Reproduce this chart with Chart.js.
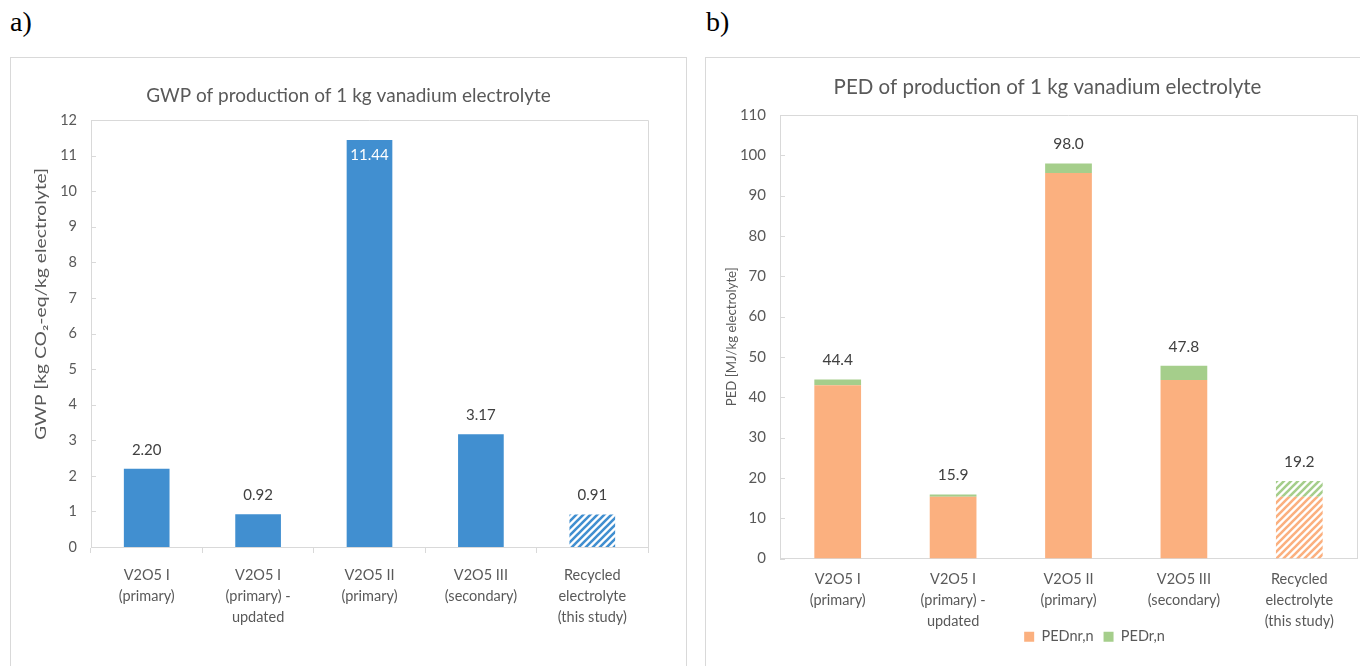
<!DOCTYPE html>
<html><head><meta charset="utf-8">
<script src="https://cdn.jsdelivr.net/npm/chart.js@4.4.1/dist/chart.umd.min.js"></script>
<style>
html,body{margin:0;padding:0;background:#fff;width:1360px;height:666px;overflow:hidden;position:relative;}
.panel{position:absolute;border:1px solid #d9d9d9;box-sizing:border-box;}
.lab{position:absolute;font-family:"Liberation Serif","DejaVu Serif",serif;font-size:28px;color:#000;line-height:1;}
canvas{position:absolute;}
</style></head><body>
<div class="lab" style="left:10px;top:8px">a)</div>
<div class="lab" style="left:706px;top:8px">b)</div>
<div class="panel" style="left:10px;top:57px;width:677px;height:640px"></div>
<div class="panel" style="left:705px;top:57px;width:700px;height:640px"></div>
<canvas id="c1" width="674" height="608" style="left:11px;top:58px"></canvas>
<canvas id="c2" width="654" height="640" style="left:706px;top:58px"></canvas>
<script>
// ---- data ----
const categories = [
  ["V2O5 I", "(primary)"],
  ["V2O5 I", "(primary) -", "updated"],
  ["V2O5 II", "(primary)"],
  ["V2O5 III", "(secondary)"],
  ["Recycled", "electrolyte", "(this study)"]
];
const gwpValues = [2.20, 0.92, 11.44, 3.17, 0.91];
const gwpLabels = ["2.20", "0.92", "11.44", "3.17", "0.91"];
const pedNonRenewable = [43.0, 15.3, 95.6, 44.3, 15.3];
const pedRenewable = [1.4, 0.6, 2.4, 3.5, 3.9];
const pedTotalLabels = ["44.4", "15.9", "98.0", "47.8", "19.2"];
const hatchedIndex = 4;

// ---- styles ----
const F = "Lato, 'Open Sans', sans-serif";
const BLUE = '#418fd0', ORANGE = '#fbb07f', GREEN = '#a5ce8b';
const GRAY = '#595959', LINE = '#d9d9d9';

function hatch(color) {
  const s = 7;
  const c = document.createElement('canvas'); c.width = s; c.height = s;
  const x = c.getContext('2d');
  x.fillStyle = '#fff'; x.fillRect(0, 0, s, s);
  x.strokeStyle = color; x.lineWidth = 2.6;
  x.beginPath();
  x.moveTo(-1, s + 1); x.lineTo(s + 1, -1);
  x.moveTo(-s / 2 - 1, s / 2 + 1); x.lineTo(s / 2 + 1, -s / 2 - 1);
  x.moveTo(s / 2 - 1, s * 1.5 + 1); x.lineTo(s * 1.5 + 1, s / 2 - 1);
  x.stroke();
  return x.createPattern(c, 'repeat');
}
function colors(base) {
  return categories.map((c, i) => i === hatchedIndex ? hatch(base) : base);
}

const frame = {
  id: 'frame',
  beforeDatasetsDraw(chart) {
    const {ctx, chartArea: a} = chart; const y = chart.scales.y;
    ctx.save(); ctx.strokeStyle = LINE; ctx.lineWidth = 1;
    ctx.beginPath();
    ctx.moveTo(a.left, Math.round(a.top) + 0.5);
    ctx.lineTo(Math.round(a.right) + 0.5, Math.round(a.top) + 0.5);
    ctx.lineTo(Math.round(a.right) + 0.5, a.bottom);
    y.ticks.forEach(t => {
      const py = Math.round(y.getPixelForValue(t.value)) + 0.5;
      ctx.moveTo(a.left, py); ctx.lineTo(a.left + 5, py);
    });
    ctx.stroke(); ctx.restore();
  }
};
const valueLabels = {
  id: 'valueLabels',
  afterDatasetsDraw(chart, args, opts) {
    const ctx = chart.ctx; ctx.save();
    ctx.font = opts.size + 'px ' + F; ctx.textAlign = 'center'; ctx.textBaseline = 'middle';
    const meta = chart.getDatasetMeta(chart.data.datasets.length - 1);
    meta.data.forEach((bar, i) => {
      let y = bar.y - 19, col = '#404040';
      if (y - 8 < chart.chartArea.top) { y = bar.y + 15; col = '#ffffff'; }
      ctx.fillStyle = col; ctx.fillText(opts.labels[i], bar.x, y);
    });
    ctx.restore();
  }
};
const shift = {
  id: 'shift',
  afterLayout(chart, args, opts) {
    if (opts.titleDx && chart.titleBlock) { chart.titleBlock.left += opts.titleDx; chart.titleBlock.right += opts.titleDx; }
    if (chart.legend) {
      if (opts.legendDx) { chart.legend.left += opts.legendDx; chart.legend.right += opts.legendDx; }
      if (opts.legendDy) { chart.legend.top += opts.legendDy; chart.legend.bottom += opts.legendDy; }
    }
  }
};
// y-axis title drawn stretched along its direction, as in the reference panel a)
const yTitle = {
  id: 'yTitle',
  afterDraw(chart, args, o) {
    const ctx = chart.ctx; ctx.save();
    ctx.font = o.size + 'px ' + F; ctx.fillStyle = GRAY; ctx.textAlign = 'center'; ctx.textBaseline = 'middle';
    const w = ctx.measureText(o.text).width;
    ctx.translate(o.x, o.y); ctx.rotate(-Math.PI / 2); ctx.scale(o.length / w, 1);
    ctx.fillText(o.text, 0, 0);
    ctx.restore();
  }
};

new Chart(document.getElementById('c1'), {
  type: 'bar',
  data: {
    labels: categories,
    datasets: [{ label: 'GWP', data: gwpValues, backgroundColor: colors(BLUE),
      categoryPercentage: 1, barPercentage: 0.41 }]
  },
  options: {
    responsive: false, animation: false, devicePixelRatio: 1,
    layout: { padding: { left: 0, right: 37, top: 0, bottom: 0 } },
    plugins: {
      legend: { display: false }, tooltip: { enabled: false },
      title: { display: true, text: 'GWP of production of 1 kg vanadium electrolyte', color: GRAY,
        font: { family: F, size: 19, weight: 'normal', lineHeight: 1.2 }, padding: { top: 26.6, bottom: 12.6 } },
      valueLabels: { labels: gwpLabels, size: 15 },
      shift: { titleDx: 19 },
      yTitle: { text: 'GWP [kg CO\u2082-eq/kg electrolyte]', size: 14.5, x: 30, y: 246, length: 272 }
    },
    scales: {
      x: {
        grid: { display: true, drawOnChartArea: false, drawTicks: true, tickLength: 6, color: LINE },
        border: { display: true, color: LINE },
        ticks: { color: GRAY, font: { family: F, size: 14.5, lineHeight: 1.45 }, padding: 11.5, maxRotation: 0, autoSkip: false },
        afterFit(s) { s.height = 119; }
      },
      y: {
        min: 0, max: 12,
        ticks: { stepSize: 1, color: GRAY, font: { family: F, size: 14.5 }, padding: 14 },
        grid: { display: false, drawTicks: false },
        border: { display: true, color: LINE },
        title: { display: false },
        afterFit(s) { s.width = 80; }
      }
    }
  },
  plugins: [frame, valueLabels, shift, yTitle]
});

new Chart(document.getElementById('c2'), {
  type: 'bar',
  data: {
    labels: categories,
    datasets: [
      { label: 'PEDnr,n', data: pedNonRenewable, backgroundColor: colors(ORANGE), categoryPercentage: 1, barPercentage: 0.405 },
      { label: 'PEDr,n', data: pedRenewable, backgroundColor: colors(GREEN), categoryPercentage: 1, barPercentage: 0.405 }
    ]
  },
  options: {
    responsive: false, animation: false, devicePixelRatio: 1,
    layout: { padding: { left: 0, right: 3, top: 0, bottom: 25 } },
    plugins: {
      tooltip: { enabled: false },
      legend: { display: true, position: 'bottom',
        labels: { boxWidth: 10, boxHeight: 10, color: GRAY, font: { family: F, size: 14.5 }, padding: 10 } },
      title: { display: true, text: 'PED of production of 1 kg vanadium electrolyte', color: GRAY,
        font: { family: F, size: 20.5, weight: 'normal', lineHeight: 1.2 }, padding: { top: 16.7, bottom: 15.7 } },
      valueLabels: { labels: pedTotalLabels, size: 15.5 },
      shift: { titleDx: 16, legendDx: 63, legendDy: -19 }
    },
    scales: {
      x: {
        stacked: true,
        grid: { display: false, drawTicks: false },
        border: { display: true, color: LINE },
        ticks: { color: GRAY, font: { family: F, size: 14.5, lineHeight: 1.45 }, padding: 10.5, maxRotation: 0, autoSkip: false },
        afterFit(s) { s.height = 80; }
      },
      y: {
        stacked: true, min: 0, max: 110,
        ticks: { stepSize: 10, color: GRAY, font: { family: F, size: 15 }, padding: 14 },
        grid: { display: false, drawTicks: false },
        border: { display: true, color: LINE },
        title: { display: true, text: 'PED [MJ/kg electrolyte]', color: GRAY,
          font: { family: F, size: 13.2 }, padding: { top: 17.4, bottom: 0 } },
        afterFit(s) { s.width = 74; }
      }
    }
  },
  plugins: [frame, valueLabels, shift]
});
</script>
</body></html>
